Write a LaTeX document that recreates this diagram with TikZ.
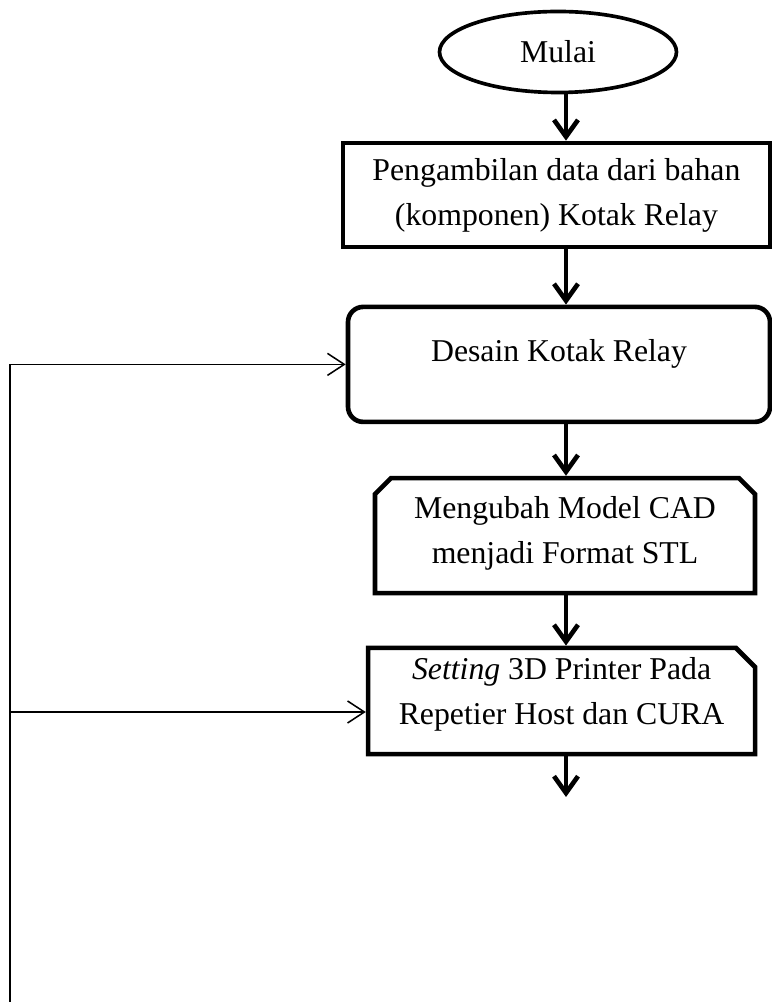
\documentclass[tikz,border=0pt]{standalone}
\usepackage{fontspec}
\setmainfont{Liberation Serif}
\usetikzlibrary{shapes,shapes.misc,arrows.meta,positioning,calc}
\definecolor{bordercolor}{RGB}{0,0,0}
\definecolor{arrowcolor}{RGB}{0,0,0}
\tikzset{
    module/.style={
        rectangle,
        minimum width=9.5cm,
        minimum height=2.6cm,
        inner sep=0pt,
        align=center,
        draw=bordercolor,
        line width=3.3pt,
        font=\fontsize{22.6}{32}\selectfont
    },
    startmodule/.style={module, ellipse, line width=2.6pt},
    processmodule/.style={module},
    designmodule/.style={module, rounded corners=0.38cm},
    convertmodule/.style={module, chamfered rectangle, chamfered rectangle sep=0.2cm,
        chamfered rectangle corners={north west, north east}},
    settingmodule/.style={module, chamfered rectangle, chamfered rectangle sep=0.24cm,
        chamfered rectangle corners={north east}},
    arrow/.style={-{Straight Barb[length=0.42cm, width=0.6cm]}, line width=3.3pt, color=arrowcolor},
    backarrow/.style={-{Straight Barb[length=0.42cm, width=0.55cm]}, line width=1.1pt, color=arrowcolor}
}

\begin{document}
\begin{tikzpicture}
    \useasboundingbox (0,0) rectangle (19.275,25.05);

    % Start
    \node[startmodule, minimum width=5.925cm, minimum height=2.025cm] (mulai) at (13.95,23.75) {Mulai};

    % Process steps
    \node[processmodule, minimum width=10.675cm] (ambil) at (13.91,20.175) {Pengambilan data dari bahan\\(komponen) Kotak Relay};
    \node[designmodule, minimum width=10.55cm, minimum height=2.875cm, text height=0.5cm, text depth=0.62cm] (desain) at (13.975,15.94) {Desain Kotak Relay};
    \node[convertmodule, minimum height=2.875cm, text depth=0.3cm] (ubah) at (14.125,11.66) {Mengubah Model CAD\\menjadi Format STL};
    \node[settingmodule, minimum width=9.675cm, minimum height=2.65cm, text depth=0.5cm] (setting) at (14.04,7.525) {\textit{Setting} 3D Printer Pada\\Repetier Host dan CURA};

    % Helper coordinates
    \coordinate (spine) at (14.15,0);
    \coordinate (ujung) at (14.15,5.125);
    \coordinate (loop) at (0.25,0);
    \coordinate (balik) at (0.25,7.25);

    % Arrows
    \draw[arrow] (mulai.south -| spine) -- (ambil.north -| spine);
    \draw[arrow] (ambil.south -| spine) -- (desain.north -| spine);
    \draw[arrow] (desain.south -| spine) -- (ubah.north -| spine);
    \draw[arrow] (ubah.south -| spine) -- (setting.north -| spine);
    \draw[arrow] (setting.south -| spine) -- (ujung);

    % Feedback
    \draw[backarrow] (loop) |- (desain.west);
    \draw[backarrow] (balik) -- (balik -| setting.west);
\end{tikzpicture}
\end{document}
